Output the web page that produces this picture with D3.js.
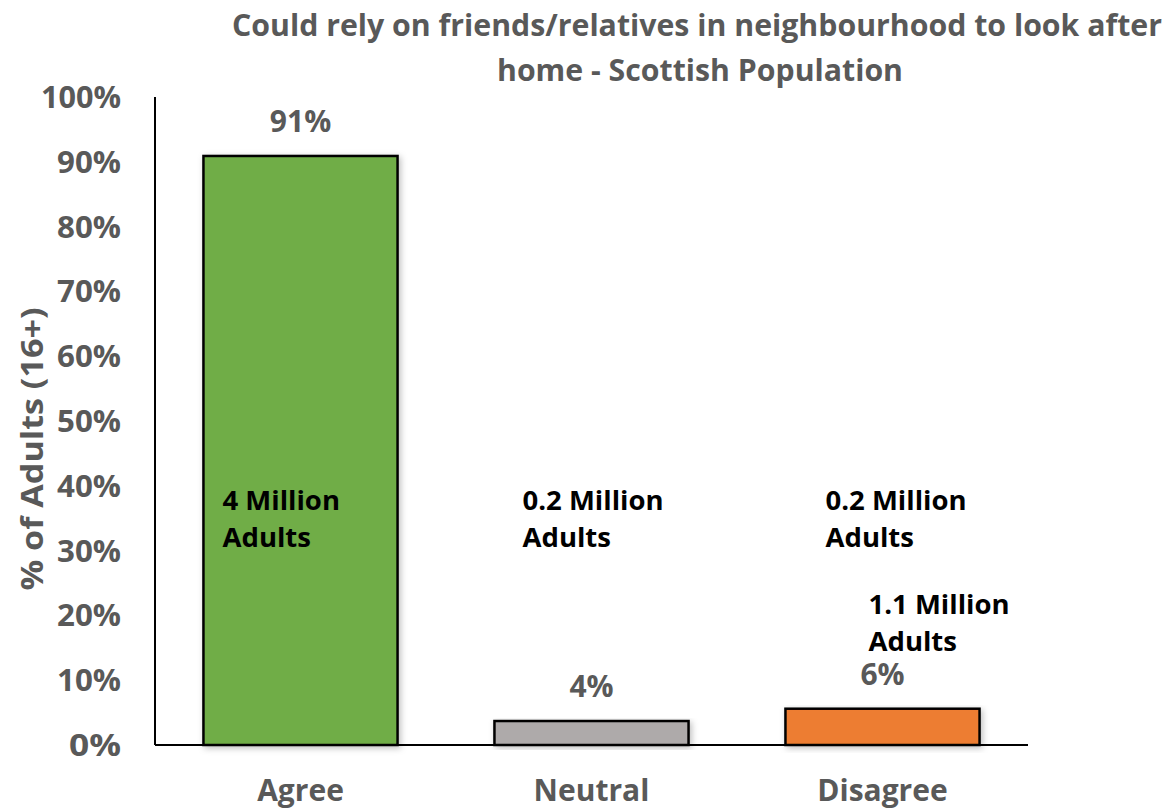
<!DOCTYPE html>
<html><head><meta charset="utf-8">
<script src="https://cdn.jsdelivr.net/npm/d3@7"></script>
<style>body{margin:0;background:#fff}svg{display:block}text{font-family:"Open Sans",sans-serif;font-weight:700}</style>
</head><body><svg id="c" width="1173" height="810"></svg>
<script>
const categories = ["Agree", "Neutral", "Disagree"];
const values = [90.9, 3.7, 5.6];
const valueLabels = ["91%", "4%", "6%"];
const colors = ["#70ad47", "#aeaaaa", "#ed7d31"];
const yTicks = [0, 10, 20, 30, 40, 50, 60, 70, 80, 90, 100];
const annotations = [
  {cat: "Agree", lines: ["4 Million", "Adults"], dx: -78, v: 36.3},
  {cat: "Neutral", lines: ["0.2 Million", "Adults"], dx: -69, v: 36.3},
  {cat: "Disagree", lines: ["0.2 Million", "Adults"], dx: -57, v: 36.3},
  {cat: "Disagree", lines: ["1.1 Million", "Adults"], dx: -14, v: 20.2}
];
const titleLines = ["Could rely on friends/relatives in neighbourhood to look after", "home - Scottish Population"];
const yTitle = "% of Adults (16+)";

const svg = d3.select("#c");
const x = d3.scaleBand().domain(categories).range([155, 1028]).paddingInner(0.333).paddingOuter(0.1665);
const y = d3.scaleLinear().domain([0, 100]).range([745, 97]);
const gray = "#595959";

const defs = svg.append("defs");
const f = defs.append("filter").attr("id","sh").attr("x","-10%").attr("y","-10%").attr("width","130%").attr("height","130%");
f.append("feDropShadow").attr("dx",2).attr("dy",2).attr("stdDeviation",3).attr("flood-color","#000").attr("flood-opacity",0.25);

svg.selectAll("rect.bar").data(categories).join("rect").attr("class","bar")
  .attr("x", d => x(d)).attr("width", x.bandwidth())
  .attr("y", (d,i) => y(values[i])).attr("height", (d,i) => y(0) - y(values[i]))
  .attr("fill", (d,i) => colors[i]).attr("stroke", "#000").attr("stroke-width", 2.5)
  .attr("filter","url(#sh)");

svg.append("line").attr("x1",155).attr("x2",155).attr("y1",y(100)).attr("y2",y(0)).attr("stroke","#000").attr("stroke-width",2);
svg.append("line").attr("x1",155).attr("x2",1028).attr("y1",y(0)).attr("y2",y(0)).attr("stroke","#000").attr("stroke-width",2);

svg.selectAll("text.yt").data(yTicks).join("text").attr("class","yt")
  .attr("x", 121).attr("y", d => y(d) + 11).attr("text-anchor","end")
  .attr("fill", gray).attr("font-size", 30).attr("textLength", d => d===100?80:d===0?52:64).attr("lengthAdjust","spacingAndGlyphs")
  .text(d => d + "%");

svg.selectAll("text.cat").data(categories).join("text").attr("class","cat")
  .attr("x", d => x(d) + x.bandwidth()/2).attr("y", 801).attr("text-anchor","middle")
  .attr("fill", gray).attr("font-size", 30).text(d => d);

svg.selectAll("text.val").data(categories).join("text").attr("class","val")
  .attr("x", d => x(d) + x.bandwidth()/2).attr("y", (d,i) => y(values[i]) - 24).attr("text-anchor","middle")
  .attr("fill", gray).attr("font-size", 30).text((d,i) => valueLabels[i]);

annotations.forEach(a => {
  const t = svg.append("text").attr("fill","#000").attr("font-size",27.5);
  a.lines.forEach((l,j) => {
    t.append("tspan").attr("x", x(a.cat) + x.bandwidth()/2 + a.dx).attr("y", y(a.v) + j*37).text(l);
  });
});

svg.append("text").attr("x", 697).attr("y", 36).attr("text-anchor","middle").attr("fill", gray)
  .attr("font-size", 31).attr("textLength", 930).attr("lengthAdjust","spacingAndGlyphs").text(titleLines[0]);
svg.append("text").attr("x", 700).attr("y", 81).attr("text-anchor","middle").attr("fill", gray)
  .attr("font-size", 31).attr("textLength", 406).attr("lengthAdjust","spacingAndGlyphs").text(titleLines[1]);

svg.append("text").attr("transform","translate(43,449) rotate(-90)").attr("text-anchor","middle")
  .attr("fill", gray).attr("font-size", 30).attr("textLength", 283).attr("lengthAdjust","spacingAndGlyphs").text(yTitle);
</script></body></html>
